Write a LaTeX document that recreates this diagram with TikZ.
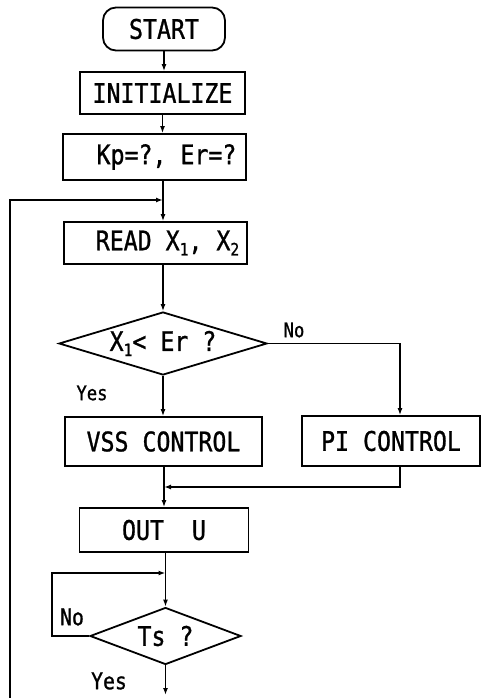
\documentclass[tikz,border=0pt]{standalone}
\usepackage{fontspec}
\setmonofont[FakeStretch=0.86,FakeBold=1]{DejaVu Sans Mono}
\usetikzlibrary{shapes.geometric,arrows.meta}
\newcommand\sbx[1]{\raisebox{-0.35ex}{\fontsize{17}{19}\selectfont #1}}
\begin{document}
\begin{tikzpicture}[x=1pt,y=-1pt,
 every node/.style={font=\ttfamily\fontsize{27}{30}\selectfont},
 box/.style={draw,line width=1.8pt,inner sep=0pt},
 dec/.style={draw,diamond,line width=1.8pt,inner sep=0pt},
 lbl/.style={font=\ttfamily\fontsize{20}{22}\selectfont,inner sep=0pt},
 lblb/.style={font=\ttfamily\fontsize{23}{25}\selectfont,inner sep=0pt},
 conn/.style={line width=1.8pt,-{Latex[length=7pt,width=5pt]}},
 wire/.style={line width=1.8pt}]
\useasboundingbox (0,0) rectangle (481,698);

\node[box,rounded corners=13pt,minimum width=122pt,minimum height=43pt] (start) at (164,29) {START};
\node[box,minimum width=165pt,minimum height=42pt] (init) at (162.5,93) {INITIALIZE};
\node[box,minimum width=183pt,minimum height=46pt] (kp) at (154.5,157) {\hspace*{24pt}Kp=?, Er=?};
\node[box,minimum width=183pt,minimum height=42pt] (read) at (155.5,243) {\hspace*{24pt}READ X\sbx{1}, X\sbx{2}};
\node[dec,aspect=3.3,minimum width=208pt,minimum height=63pt] (d1) at (163,343.5) {X\sbx{1}< Er ?};
\node[box,minimum width=197pt,minimum height=49pt] (vss) at (163.5,441.5) {VSS CONTROL};
\node[box,minimum width=178pt,minimum height=50pt] (pi) at (391,441) {PI CONTROL};
\node[box,minimum width=169pt,minimum height=44pt] (out) at (164,530) {OUT~~U};
\node[dec,aspect=2.65,minimum width=151pt,minimum height=57pt] (d2) at (165.5,636) {Ts ?};

\coordinate (j1) at (163,200);
\coordinate (j2) at (164,487);
\coordinate (j3) at (165.5,573);
\coordinate (nl) at (52,636);
\coordinate (bot) at (165.5,695);
\coordinate (lb) at (10,698);
\coordinate (lt) at (10,200);

\draw[conn] (start.south) -- (start.south |- init.north);
\draw[conn] (init.south) -- (init.south |- kp.north);
\draw[wire] (kp.south -| j1) -- (j1);
\draw[conn] (j1) -- (j1 |- read.north);
\draw[conn] (read.south -| d1.north) -- (d1.north);
\draw[conn] (d1.south) -- (d1.south |- vss.north);
\draw[conn] (d1.east) -| ([xshift=9pt]pi.north);
\draw[wire] (vss.south -| j2) -- (j2);
\draw[conn] ([xshift=9pt]pi.south) |- (j2);
\draw[conn] (j2) -- (j2 |- out.north);
\draw[wire] (out.south -| j3) -- (j3);
\draw[conn] (j3) -- (d2.north);
\draw[conn] (d2.west) -- (nl) |- (j3);
\draw[conn] (d2.south) -- (bot);
\draw[conn] (lb) -- (lt) -- (j1);

\node[lbl] (no1) at (294,330) {No};
\node[lbl] (yes1) at (92,393) {Yes};
\node[lblb] (no2) at (72,617) {No};
\node[lblb] (yes2) at (109,681) {Yes};
\end{tikzpicture}
\end{document}
